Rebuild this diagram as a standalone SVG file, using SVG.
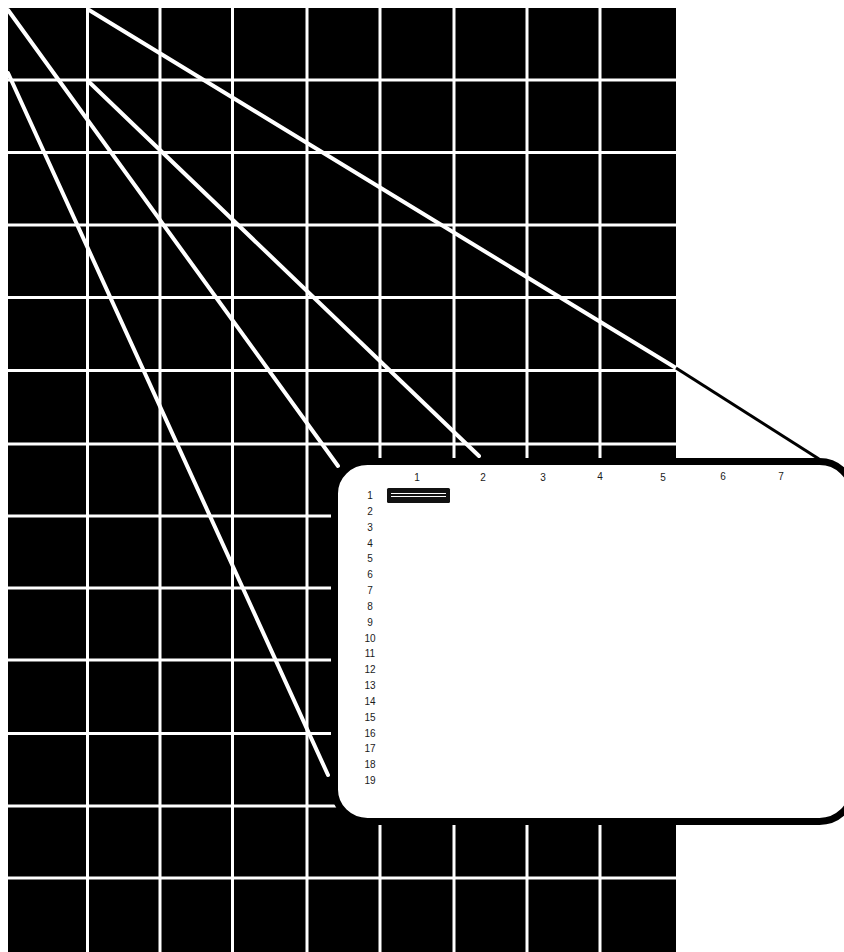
<svg xmlns="http://www.w3.org/2000/svg" width="844" height="952" viewBox="0 0 844 952">
<style>
.g{stroke:#fff;stroke-width:3;fill:none}
.d{stroke:#fff;stroke-width:4;stroke-linecap:round;fill:none}
.t{font-family:"Liberation Sans",Arial,sans-serif;font-size:10px;fill:#1a1a1a;text-anchor:middle}
</style>
<rect x="0" y="0" width="844" height="952" fill="#fff"/>
<g id="grid">
<rect x="8" y="8" width="668" height="944" fill="#000"/>
<path class="g" d="M8 80H676M8 152.5H676M8 225H676M8 297.5H676M8 370.5H676M8 444H676M8 516H676M8 588H676M8 660H676M8 733.5H676M8 806H676M8 878H676"/>
<path class="g" d="M87.5 8V952M160 8V952M232.5 8V952M307 8V952M380 8V952M454 8V952M527 8V952M600 8V952"/>
</g>
<g id="connectors">
<line class="d" x1="8" y1="10" x2="338" y2="466"/>
<line class="d" x1="89" y1="10" x2="676" y2="368"/>
<line x1="676" y1="368" x2="819" y2="459" stroke="#000" stroke-width="3"/>
<line class="d" x1="8" y1="73" x2="328" y2="775"/>
<line class="d" x1="88" y1="81" x2="479" y2="456"/>
</g>
<g id="screen">
<rect x="334.5" y="461.5" width="518" height="360" rx="33" ry="32" fill="#fff" stroke="#000" stroke-width="7"/>
<g id="cursor">
<rect x="387" y="488" width="63" height="15" rx="1.5" fill="#111"/>
<path d="M391 493.5H446M391 496.5H446" stroke="#fff" stroke-width="1"/>
</g>
<g id="col-labels">
<text class="t" x="417" y="481">1</text>
<text class="t" x="483" y="481">2</text>
<text class="t" x="543" y="481">3</text>
<text class="t" x="600" y="480">4</text>
<text class="t" x="663" y="481">5</text>
<text class="t" x="723" y="480">6</text>
<text class="t" x="781" y="480">7</text>
</g>
<g id="row-labels">
<text class="t" x="370" y="499">1</text>
<text class="t" x="370" y="514.8">2</text>
<text class="t" x="370" y="530.7">3</text>
<text class="t" x="370" y="546.5">4</text>
<text class="t" x="370" y="562.3">5</text>
<text class="t" x="370" y="578.2">6</text>
<text class="t" x="370" y="594">7</text>
<text class="t" x="370" y="609.8">8</text>
<text class="t" x="370" y="625.6">9</text>
<text class="t" x="370" y="641.5">10</text>
<text class="t" x="370" y="657.3">11</text>
<text class="t" x="370" y="673.1">12</text>
<text class="t" x="370" y="689">13</text>
<text class="t" x="370" y="704.8">14</text>
<text class="t" x="370" y="720.6">15</text>
<text class="t" x="370" y="736.5">16</text>
<text class="t" x="370" y="752.3">17</text>
<text class="t" x="370" y="768.1">18</text>
<text class="t" x="370" y="784">19</text>
</g>
</g>
</svg>
